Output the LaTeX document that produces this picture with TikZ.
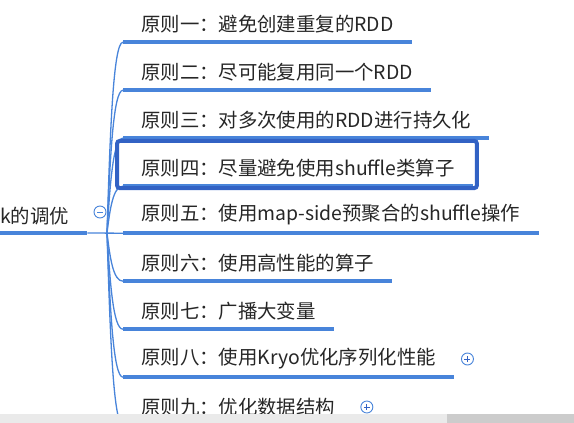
\documentclass[tikz,border=0pt]{standalone}
\usepackage{fontspec}
\setmainfont{Noto Sans CJK SC}
\usepackage{tikz}
\usetikzlibrary{positioning}

\definecolor{topicblue}{RGB}{72,132,218}
\definecolor{selblue}{RGB}{50,98,196}
\definecolor{inkgrey}{RGB}{38,38,38}
\definecolor{barlight}{RGB}{234,234,234}
\definecolor{bardark}{RGB}{204,204,204}

\begin{document}
\begin{tikzpicture}[x=1pt,y=-1pt]
\tikzstyle{topic}=[anchor=west,inner xsep=18pt,inner ysep=0pt,minimum height=36pt,text=inkgrey,font=\fontsize{19.4}{22}\selectfont]
\tikzstyle{rule}=[draw=topicblue,line width=3.6pt]
\tikzstyle{branch}=[draw=topicblue,line width=1.3pt]
\tikzstyle{fold}=[circle,draw=topicblue,fill=white,line width=0.9pt,minimum size=12pt,inner sep=0pt]
\tikzstyle{sign}=[draw=selblue,line width=1pt]
\tikzstyle{selbox}=[draw=selblue,line width=4pt,rounded corners=3pt]

\useasboundingbox (0,0) rectangle (574,423);

% root topic
\node[anchor=south west,inner sep=0pt,text width=87pt,minimum height=34pt,text=inkgrey,font=\fontsize{19.4}{22}\selectfont] (root) at (0,233) {k的调优};
\coordinate (fork) at (107,233);

% sub topics
\node[topic] (t1) at (123,24) {原则一：避免创建重复的RDD};
\node[topic] (t2) at (123,72) {原则二：尽可能复用同一个RDD};
\node[topic] (t3) at (123,120) {原则三：对多次使用的RDD进行持久化};
\node[topic] (t4) at (123,168) {原则四：尽量避免使用shuffle类算子};
\node[topic] (t5) at (123,215) {原则五：使用map-side预聚合的shuffle操作};
\node[topic] (t6) at (123,263) {原则六：使用高性能的算子};
\node[topic] (t7) at (123,311) {原则七：广播大变量};
\node[topic] (t8) at (123,359) {原则八：使用Kryo优化序列化性能};
\node[topic] (t9) at (123,407) {原则九：优化数据结构};

% branches
\draw[branch] (root.south east) -- (t5.south west);
\draw[branch] (fork) .. controls +(3,-96) and +(-10,0) .. (t1.south west);
\draw[branch] (fork) .. controls +(3,-72) and +(-10,0) .. (t2.south west);
\draw[branch] (fork) .. controls +(3,-48) and +(-10,0) .. (t3.south west);
\draw[branch] (fork) .. controls +(3,-24) and +(-10,0) .. (t4.south west);
\draw[branch] (fork) .. controls +(3,24) and +(-10,0) .. (t6.south west);
\draw[branch] (fork) .. controls +(3,48) and +(-10,0) .. (t7.south west);
\draw[branch] (fork) .. controls +(3,72) and +(-10,0) .. (t8.south west);
\draw[branch] (fork) .. controls +(3,96) and +(-10,0) .. (t9.south west);

% underlines
\draw[rule] (root.south west) -- (root.south east);
\draw[rule] (t1.south west) -- (t1.south east);
\draw[rule] (t2.south west) -- (t2.south east);
\draw[rule] (t3.south west) -- (t3.south east);
\draw[rule] (t4.south west) -- (t4.south east);
\draw[rule] (t5.south west) -- (t5.south east);
\draw[rule] (t6.south west) -- (t6.south east);
\draw[rule] (t7.south west) -- (t7.south east);
\draw[rule] (t8.south west) -- (t8.south east);
\draw[rule] (t9.south west) -- (t9.south east);

% selected topic
\draw[selbox] ([xshift=-6pt,yshift=9pt]t4.north west) rectangle ([xshift=4pt,yshift=-2pt]t4.south east);

% fold buttons
\node[fold] (minus) at (100,212) {};
\draw[sign,draw=topicblue] ([xshift=-3pt]minus.center) -- ([xshift=3pt]minus.center);
\node[fold,right=7pt of t8] (p8) {};
\draw[sign] ([xshift=-3pt]p8.center) -- ([xshift=3pt]p8.center) ([yshift=-3pt]p8.center) -- ([yshift=3pt]p8.center);
\node[fold,right=7pt of t9] (p9) {};
\draw[sign] ([xshift=-3pt]p9.center) -- ([xshift=3pt]p9.center) ([yshift=-3pt]p9.center) -- ([yshift=3pt]p9.center);

% scroll bar
\fill[barlight] (0,414) rectangle (574,423);
\fill[bardark] (447,414) rectangle (574,423);
\end{tikzpicture}
\end{document}
